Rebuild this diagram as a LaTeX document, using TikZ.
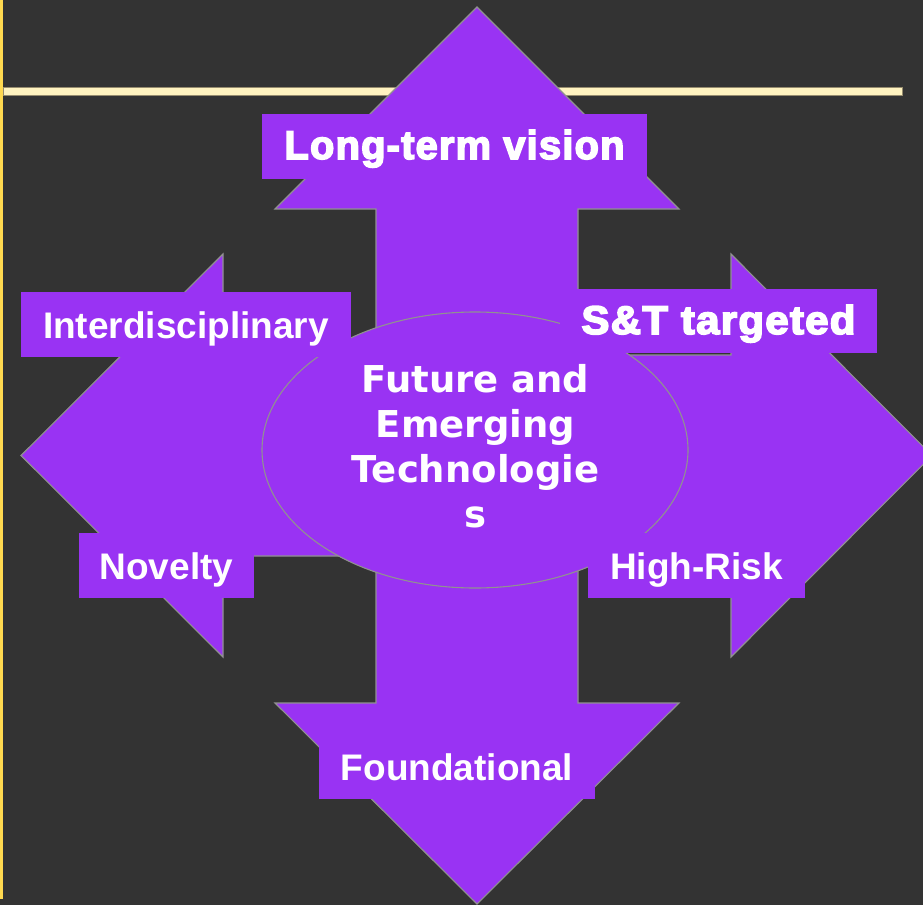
\documentclass[tikz,border=0pt]{standalone}
\usepackage{fontspec}
\usepackage{graphicx}
\usetikzlibrary{shapes.geometric}
\setmainfont{Liberation Sans}
\newfontfamily\heavyfont[FakeBold=4,LetterSpace=3]{Liberation Sans Bold}
\newfontfamily\ctrfont{DejaVu Sans}
\definecolor{bgdark}{RGB}{51,51,51}
\definecolor{fetpurple}{RGB}{153,51,243}
\definecolor{edgegray}{RGB}{145,145,145}
\definecolor{creamline}{RGB}{255,243,192}
\definecolor{creamedge}{RGB}{150,140,110}
\definecolor{sideyellow}{RGB}{255,217,80}
\begin{document}
\begin{tikzpicture}[x=1pt,y=-1pt,
  arrowshape/.style={fill=fetpurple, draw=edgegray, line width=1.1pt, line join=miter},
  lbl/.style={fill=fetpurple, inner sep=0pt, text=white, align=center,
    minimum height=65pt, text height=27pt, text depth=0pt,
    font=\fontsize{37}{40}\selectfont\bfseries},
  heavylbl/.style={lbl, font=\fontsize{40}{44}\selectfont\heavyfont}
]
\useasboundingbox (0,0) rectangle (923,905);
\clip (0,0) rectangle (923,905);
\fill[bgdark] (0,0) rectangle (923,905);
\fill[sideyellow] (0,0) rectangle (3.2,899);
\draw[fill=creamline, draw=creamedge, line width=0.8pt] (3,87) rectangle (902,95);

% horizontal double arrow
\draw[arrowshape] (21,455.5) -- (223,254) -- (223,355) -- (731,355) -- (731,254)
  -- (932,455.5) -- (731,657) -- (731,556) -- (223,556) -- (223,657) -- cycle;
% vertical double arrow
\draw[arrowshape] (477,7) -- (679,209) -- (578,209) -- (578,703) -- (679,703)
  -- (477,904) -- (275,703) -- (376,703) -- (376,209) -- (275,209) -- cycle;

% central ellipse
\node[ellipse, fill=fetpurple, draw=edgegray, line width=1.1pt, inner sep=0pt,
  minimum width=426pt, minimum height=276pt] (fet) at (475,450) {};
\node[text=white, align=center, inner sep=0pt,
  font=\fontsize{37}{45}\selectfont\ctrfont\bfseries] (fettext) at (475.5,446.5)
  {Future and\\Emerging\\Technologie\\s};

% labels
\node[heavylbl, minimum width=385pt, text height=29pt, text depth=4pt] (lt) at (454.5,146.5)
  {\resizebox{340pt}{\height}{Long-term vision}};
\node[lbl, minimum width=330pt] (inter) at (186,324.5) {Interdisciplinary};
\node[heavylbl, minimum width=317pt, minimum height=64pt, text height=28pt, text depth=2pt] (st) at (718.5,321)
  {\resizebox{274pt}{\height}{S\&T targeted}};
\node[lbl, minimum width=175pt] (nov) at (166.5,565.5) {Novelty};
\node[lbl, minimum width=217pt] (hr) at (696.5,565.5) {High-Risk};
\node[lbl, minimum width=276pt] (found) at (457,766.5) {Foundational};
\end{tikzpicture}
\end{document}
